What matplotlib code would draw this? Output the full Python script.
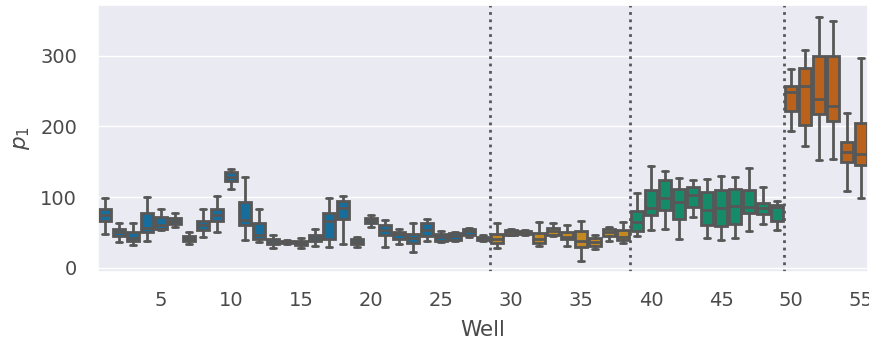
import numpy as np
import matplotlib
matplotlib.use("Agg")
import matplotlib.pyplot as plt
import seaborn as sns

# five-number summaries per well
wells = list(range(1, 56))
whislo = [48, 37, 32, 38, 53, 58, 34, 44, 50, 112, 40, 37, 28, 33, 28, 31, 30, 34, 29, 58,
          30, 34, 23, 38, 37, 38, 44, 38, 28, 46, 47, 31, 45, 31, 10, 27, 38, 35, 45, 54,
          55, 41, 72, 42, 40, 42, 52, 62, 54, 193, 173, 153, 154, 109, 99]
q1 = [66, 45, 38, 51, 55, 62, 38, 54, 66, 123, 61, 41, 33, 35, 32, 38, 41, 69, 33, 64,
      47, 41, 35, 45, 38, 40, 47, 39, 35, 47, 48, 35, 47, 41, 30, 31, 45, 40, 52, 74,
      82, 69, 86, 61, 59, 62, 78, 76, 66, 222, 202, 218, 208, 150, 146]
med = [75, 51, 42, 57, 60, 66, 41, 61, 74, 128, 67, 47, 37, 36, 35, 42, 66, 85, 37, 68,
       54, 48, 42, 54, 43, 45, 52, 42, 41, 50, 50, 41, 52, 44, 38, 36, 51, 44, 65, 85,
       99, 93, 103, 82, 85, 88, 86, 85, 86, 249, 257, 239, 229, 164, 161]
q3 = [83, 55, 50, 78, 72, 71, 45, 66, 83, 136, 93, 64, 41, 38, 38, 47, 78, 95, 41, 71,
      61, 51, 48, 64, 48, 49, 55, 44, 48, 54, 52, 49, 57, 50, 52, 42, 55, 54, 81, 110,
      124, 112, 114, 107, 110, 112, 110, 92, 89, 257, 283, 300, 300, 178, 205]
whishi = [99, 64, 64, 100, 83, 78, 51, 83, 102, 140, 128, 83, 47, 40, 42, 55, 99, 101, 44, 75,
          68, 55, 64, 69, 52, 50, 57, 46, 64, 55, 53, 65, 64, 61, 66, 47, 58, 65, 106, 144,
          137, 127, 124, 126, 130, 129, 141, 115, 95, 281, 308, 355, 349, 219, 297]

group_sizes = [28, 10, 11, 6]
palette = sns.color_palette("colorblind")
group_colors = [palette[0], palette[1], palette[2], palette[3]]

sns.set_theme(style="darkgrid")
plt.rcParams["font.family"] = ["DejaVu Sans"]

fig = plt.figure(figsize=(8.7, 3.43), dpi=100)
ax = fig.add_axes([98 / 870, 71 / 343, 770 / 870, 267 / 343])

stats = []
for i in range(len(wells)):
    stats.append({"whislo": whislo[i], "q1": q1[i], "med": med[i],
                  "q3": q3[i], "whishi": whishi[i], "fliers": []})

edge = "#575757"
lw = 2.0
bp = ax.bxp(stats, positions=wells, widths=0.8, patch_artist=True,
            showfliers=False, capwidths=0.45,
            boxprops=dict(edgecolor=edge, linewidth=lw),
            whiskerprops=dict(color=edge, linewidth=lw),
            capprops=dict(color=edge, linewidth=lw),
            medianprops=dict(color=edge, linewidth=lw))

well_colors = []
for c, n in zip(group_colors, group_sizes):
    well_colors += [sns.desaturate(c, 0.75)] * n
for box, c in zip(bp["boxes"], well_colors):
    box.set_facecolor(c)

# dotted dividers between groups
for b in np.cumsum(group_sizes)[:-1]:
    ax.axvline(b + 0.5, color=edge, linestyle=":", linewidth=2.0)

txt = "#4a4a4a"
ax.set_xlim(0.5, 55.5)
ax.set_ylim(-6, 372)
ax.set_xticks(range(5, 56, 5))
ax.set_xticklabels([str(t) for t in range(5, 56, 5)])
ax.set_yticks([0, 100, 200, 300])
ax.xaxis.grid(False)
ax.tick_params(axis="x", labelsize=14, pad=8, labelcolor=txt)
ax.tick_params(axis="y", labelsize=14, pad=9, labelcolor=txt)
ax.set_xlabel("Well", fontsize=15.5, labelpad=7, color=txt)
ax.set_ylabel("$p_1$", fontsize=15.5, labelpad=6, color=txt)

fig.savefig("out.png", dpi=100)
